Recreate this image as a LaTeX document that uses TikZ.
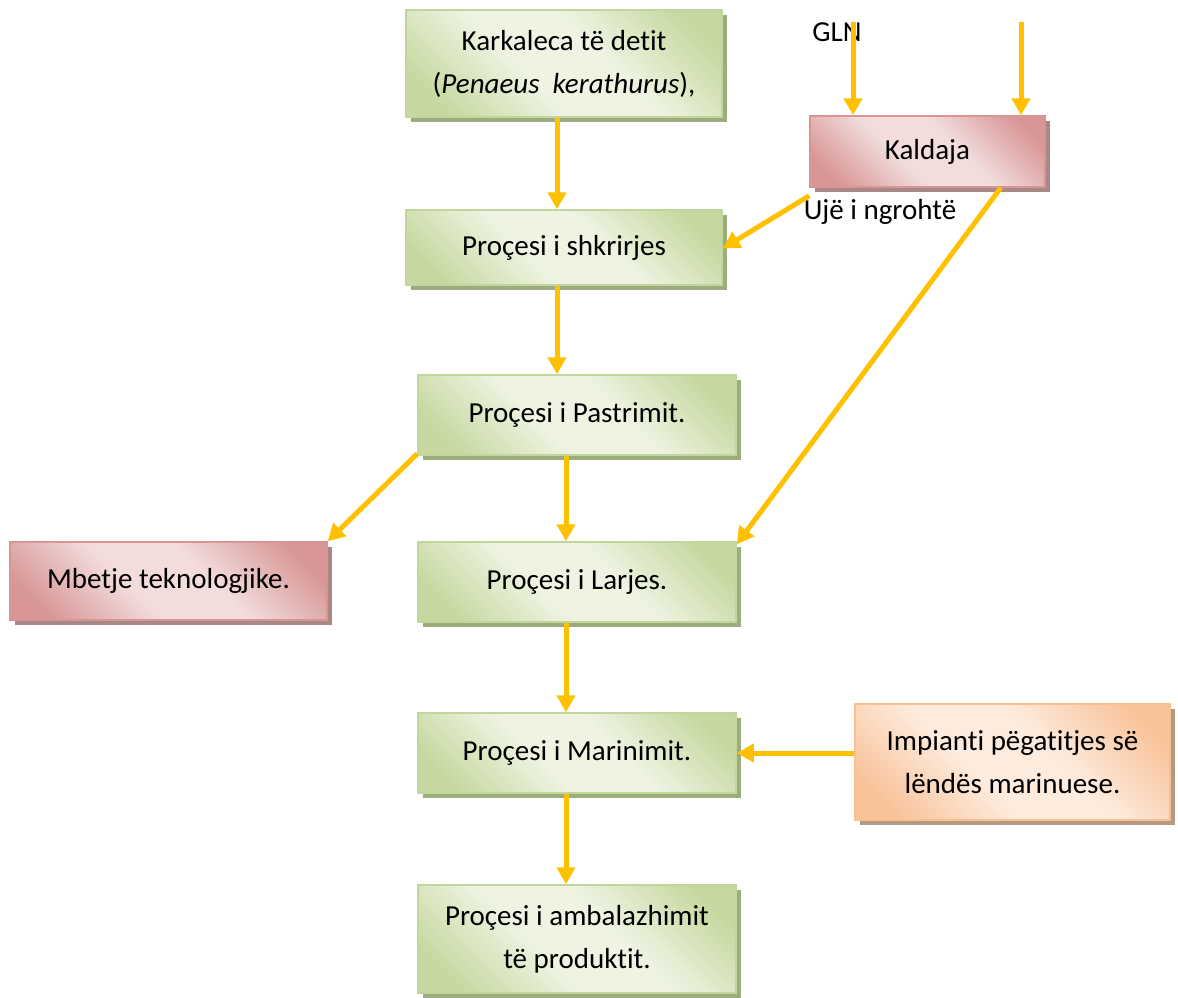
\documentclass[tikz,border=0pt]{standalone}
\usepackage{fontspec}
\setmainfont{Carlito}[Ligatures=NoCommon]
\usetikzlibrary{arrows.meta,shadows}
\definecolor{arrc}{HTML}{FFC000}
\definecolor{gB}{HTML}{C2D69B}
\definecolor{gL}{HTML}{EEF3E2}
\definecolor{gD}{HTML}{C6D89F}
\definecolor{gS}{HTML}{9DAC7D}
\definecolor{rB}{HTML}{D99594}
\definecolor{rL}{HTML}{F2DCDC}
\definecolor{rD}{HTML}{D89796}
\definecolor{rS}{HTML}{A88787}
\definecolor{oB}{HTML}{FAC090}
\definecolor{oL}{HTML}{FDEBDD}
\definecolor{oD}{HTML}{F9C39A}
\definecolor{oS}{HTML}{B59A83}
\pgfdeclareverticalshading{gsh}{100bp}{color(0bp)=(gD); color(22bp)=(gD); color(42bp)=(gL); color(58bp)=(gL); color(78bp)=(gD); color(100bp)=(gD)}
\pgfdeclareverticalshading{rsh}{100bp}{color(0bp)=(rD); color(22bp)=(rD); color(42bp)=(rL); color(58bp)=(rL); color(78bp)=(rD); color(100bp)=(rD)}
\pgfdeclareverticalshading{osh}{100bp}{color(0bp)=(oD); color(22bp)=(oD); color(42bp)=(oL); color(58bp)=(oL); color(78bp)=(oD); color(100bp)=(oD)}
\begin{document}
\begin{tikzpicture}[x=1pt,y=-1pt,
  box/.style={draw, line width=1.5pt, align=center, inner sep=0pt,
    font=\fontsize{29}{43}\selectfont},
  gbox/.style={box, draw=gB, shading=gsh, shading angle=-45,
    general shadow={fill=gS, shadow xshift=5pt, shadow yshift=-5pt}},
  rbox/.style={box, draw=rB, shading=rsh, shading angle=-45,
    general shadow={fill=rS, shadow xshift=5pt, shadow yshift=-5pt}},
  obox/.style={box, draw=oB, shading=osh, shading angle=-45,
    general shadow={fill=oS, shadow xshift=5pt, shadow yshift=-5pt}},
  arr/.style={draw=arrc, line width=5pt, -{Triangle[width=18pt,length=17pt]}},
  lbl/.style={font=\fontsize{29}{34}\selectfont, inner sep=0pt}]
\useasboundingbox (0,0) rectangle (1178,997);
\node[gbox, minimum width=316pt, minimum height=107pt] (n1) at (564,63.5)
  {Karkaleca të detit\\(\textit{Penaeus\ \ kerathurus}),};
\node[gbox, minimum width=316pt, minimum height=75pt] (n2) at (564,247.5) {Proçesi i shkrirjes};
\node[gbox, minimum width=318pt, minimum height=80pt] (n3) at (577,415) {Proçesi i Pastrimit.};
\node[gbox, minimum width=318pt, minimum height=80pt] (n4) at (577,582) {Proçesi i Larjes.};
\node[gbox, minimum width=318pt, minimum height=80pt] (n5) at (577,753) {Proçesi i Marinimit.};
\node[gbox, minimum width=318pt, minimum height=108pt] (n6) at (577,939)
  {Proçesi i ambalazhimit\\të produktit.};
\node[rbox, minimum width=235pt, minimum height=71pt] (k) at (927.5,151.5) {Kaldaja};
\node[rbox, minimum width=317pt, minimum height=78pt] (m) at (168.5,581) {Mbetje teknologjike.};
\node[obox, minimum width=315pt, minimum height=116pt] (im) at (1012.5,762)
  {Impianti pëgatitjes së\\lëndës marinuese.};
\node[lbl] (gln) at (837,32) {GLN};
\node[lbl] (uje) at (880,212) {Ujë i ngrohtë};
\coordinate (t1) at (853,22);
\coordinate (t2) at (1021,22);
\draw[arr] (t1) -- (t1 |- k.north);
\draw[arr] (t2) -- (t2 |- k.north);
\draw[arr] (n1.south -| 557,0) -- (n2.north -| 557,0);
\draw[arr] (n2.south -| 557,0) -- (n3.north -| 557,0);
\draw[arr] (n3.south -| 566,0) -- (n4.north -| 566,0);
\draw[arr] (n4.south -| 566,0) -- (n5.north -| 566,0);
\draw[arr] (n5.south -| 566,0) -- (n6.north -| 566,0);
\draw[arr] ([yshift=-8pt]k.south west) -- ([yshift=-1pt]n2.east);
\draw[arr] ([xshift=-45pt]k.south east) -- ([yshift=-3pt]n4.north east);
\draw[arr] ([yshift=2pt]n3.south west) -- (m.north east);
\draw[arr] (im.west |- n5.east) -- (n5.east);
\end{tikzpicture}
\end{document}
